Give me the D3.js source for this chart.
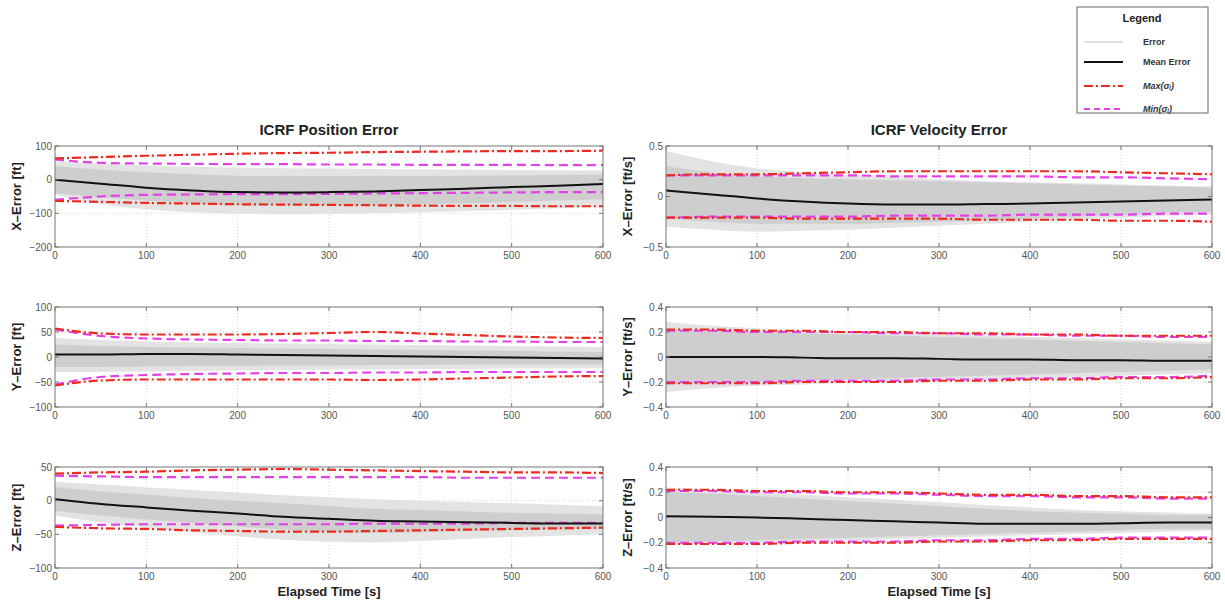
<!DOCTYPE html>
<html>
<head>
<meta charset="utf-8">
<script src="https://cdn.jsdelivr.net/npm/d3@7"></script>
<style>
  body { margin: 0; background: #fff; }
  text { font-family: "Liberation Sans", Arial, sans-serif; }
</style>
</head>
<body>
<svg id="chart" width="1225" height="601"></svg>
<script>
// Tiempo de muestreo (s)
const times = [0, 50, 100, 150, 200, 250, 300, 350, 400, 450, 500, 550, 600];
const xTicks = [0, 100, 200, 300, 400, 500, 600];

// Posicion X [ft]
const posXMean  = [0, -12, -24, -32, -37, -38, -37, -35, -31, -27, -22, -18, -13];
const posXMaxUp = [63, 67, 71, 74, 77, 79, 80, 82, 83, 84, 85, 85, 86];
const posXMaxLo = [-63, -66, -69, -71, -73, -74, -75, -76, -77, -78, -78, -79, -79];
const posXMinUp = [60, 50, 48, 47, 46, 46, 45, 45, 44, 44, 44, 43, 43];
const posXMinLo = [-60, -50, -45, -44, -43, -43, -42, -41, -40, -39, -38, -37, -37];
const posXCloudUp = [55, 48, 42, 38, 36, 34, 33, 32, 31, 30, 29, 28, 27];
const posXCloudLo = [-45, -72, -88, -97, -101, -103, -102, -100, -97, -93, -89, -85, -80];
const posXCoreUp = [40, 30, 22, 16, 12, 10, 10, 10, 11, 12, 13, 14, 15];
const posXCoreLo = [-40, -52, -62, -70, -75, -77, -77, -76, -73, -70, -66, -62, -58];

// Posicion Y [ft]
const posYMean  = [5, 5, 6, 6, 5, 4, 3, 2, 1, 0, -1, -2, -3];
const posYMaxUp = [57, 47, 45, 45, 45, 46, 48, 50, 47, 44, 41, 39, 38];
const posYMaxLo = [-57, -47, -45, -45, -45, -45, -45, -46, -45, -43, -41, -39, -38];
const posYMinUp = [55, 42, 37, 35, 34, 33, 33, 32, 32, 31, 31, 30, 30];
const posYMinLo = [-55, -40, -36, -34, -33, -32, -32, -31, -31, -30, -30, -30, -30];
const posYCloudUp = [38, 34, 31, 29, 28, 27, 26, 25, 24, 23, 22, 21, 20];
const posYCloudLo = [-30, -30, -29, -28, -27, -26, -25, -25, -24, -24, -23, -23, -22];
const posYCoreUp = [25, 22, 20, 19, 18, 17, 16, 15, 14, 13, 12, 11, 10];
const posYCoreLo = [-20, -20, -19, -18, -18, -17, -17, -16, -16, -15, -15, -15, -15];

// Posicion Z [ft]
const posZMean  = [2, -5, -10, -15, -19, -24, -27, -30, -31, -32, -33, -34, -34];
const posZMaxUp = [40, 42, 43, 45, 46, 47, 46, 45, 44, 43, 42, 42, 41];
const posZMaxLo = [-39, -41, -42, -44, -45, -46, -46, -45, -44, -43, -42, -41, -40];
const posZMinUp = [37, 36, 35, 35, 35, 35, 35, 35, 35, 34, 34, 34, 34];
const posZMinLo = [-37, -36, -35, -35, -35, -35, -35, -34, -34, -34, -33, -33, -33];
const posZCloudUp = [28, 24, 20, 16, 12, 8, 5, 2, 0, -2, -4, -6, -8];
const posZCloudLo = [-22, -32, -40, -47, -53, -58, -61, -62, -60, -57, -54, -52, -50];
const posZCoreUp = [20, 14, 9, 4, 0, -4, -8, -12, -14, -16, -18, -19, -20];
const posZCoreLo = [-15, -22, -28, -33, -38, -43, -46, -48, -47, -45, -44, -43, -42];

// Velocidad X [ft/s]
const velXMean  = [0.06, 0.02, -0.02, -0.05, -0.07, -0.08, -0.08, -0.075, -0.07, -0.06, -0.05, -0.04, -0.03];
const velXMaxUp = [0.21, 0.22, 0.22, 0.23, 0.24, 0.25, 0.25, 0.25, 0.25, 0.25, 0.24, 0.23, 0.22];
const velXMaxLo = [-0.21, -0.21, -0.21, -0.22, -0.22, -0.22, -0.22, -0.23, -0.23, -0.23, -0.24, -0.24, -0.25];
const velXMinUp = [0.21, 0.21, 0.21, 0.21, 0.21, 0.2, 0.2, 0.2, 0.2, 0.19, 0.19, 0.18, 0.17];
const velXMinLo = [-0.21, -0.2, -0.2, -0.2, -0.2, -0.19, -0.19, -0.19, -0.18, -0.18, -0.18, -0.17, -0.17];
const velXCloudUp = [0.45, 0.35, 0.28, 0.24, 0.21, 0.19, 0.17, 0.15, 0.14, 0.13, 0.12, 0.11, 0.1];
const velXCloudLo = [-0.3, -0.33, -0.35, -0.34, -0.33, -0.31, -0.29, -0.27, -0.25, -0.23, -0.21, -0.19, -0.18];
const velXCoreUp = [0.3, 0.24, 0.2, 0.18, 0.17, 0.16, 0.15, 0.14, 0.13, 0.12, 0.11, 0.1, 0.09];
const velXCoreLo = [-0.22, -0.25, -0.27, -0.27, -0.27, -0.26, -0.25, -0.24, -0.22, -0.2, -0.18, -0.16, -0.15];

// Velocidad Y [ft/s]
const velYMean  = [0, 0, 0, -0.005, -0.01, -0.01, -0.015, -0.02, -0.02, -0.025, -0.025, -0.03, -0.03];
const velYMaxUp = [0.22, 0.22, 0.21, 0.21, 0.2, 0.2, 0.19, 0.19, 0.18, 0.18, 0.17, 0.17, 0.17];
const velYMaxLo = [-0.21, -0.21, -0.21, -0.2, -0.2, -0.2, -0.19, -0.19, -0.18, -0.18, -0.17, -0.17, -0.16];
const velYMinUp = [0.21, 0.21, 0.2, 0.2, 0.2, 0.19, 0.19, 0.18, 0.18, 0.17, 0.17, 0.16, 0.16];
const velYMinLo = [-0.2, -0.2, -0.2, -0.19, -0.19, -0.19, -0.18, -0.18, -0.17, -0.17, -0.16, -0.16, -0.15];
const velYCloudUp = [0.28, 0.25, 0.23, 0.21, 0.2, 0.19, 0.18, 0.17, 0.16, 0.15, 0.14, 0.13, 0.12];
const velYCloudLo = [-0.28, -0.25, -0.23, -0.22, -0.21, -0.2, -0.19, -0.18, -0.17, -0.16, -0.15, -0.14, -0.13];
const velYCoreUp = [0.22, 0.21, 0.2, 0.19, 0.18, 0.17, 0.16, 0.15, 0.14, 0.13, 0.12, 0.11, 0.1];
const velYCoreLo = [-0.22, -0.21, -0.2, -0.19, -0.18, -0.17, -0.16, -0.15, -0.14, -0.13, -0.12, -0.11, -0.1];

// Velocidad Z [ft/s]
const velZMean  = [0.01, 0.005, 0, -0.01, -0.02, -0.03, -0.04, -0.05, -0.05, -0.05, -0.045, -0.04, -0.04];
const velZMaxUp = [0.22, 0.22, 0.21, 0.21, 0.2, 0.2, 0.19, 0.18, 0.18, 0.17, 0.17, 0.16, 0.16];
const velZMaxLo = [-0.21, -0.21, -0.21, -0.2, -0.2, -0.2, -0.19, -0.19, -0.18, -0.18, -0.17, -0.17, -0.17];
const velZMinUp = [0.21, 0.21, 0.2, 0.2, 0.19, 0.19, 0.18, 0.17, 0.17, 0.16, 0.16, 0.15, 0.15];
const velZMinLo = [-0.2, -0.2, -0.2, -0.19, -0.19, -0.19, -0.18, -0.18, -0.17, -0.17, -0.16, -0.16, -0.16];
const velZCloudUp = [0.24, 0.22, 0.2, 0.18, 0.16, 0.14, 0.12, 0.1, 0.08, 0.06, 0.05, 0.04, 0.03];
const velZCloudLo = [-0.22, -0.21, -0.2, -0.19, -0.18, -0.17, -0.16, -0.15, -0.14, -0.13, -0.12, -0.11, -0.1];
const velZCoreUp = [0.2, 0.19, 0.17, 0.15, 0.13, 0.11, 0.09, 0.07, 0.05, 0.04, 0.03, 0.02, 0.02];
const velZCoreLo = [-0.2, -0.19, -0.18, -0.17, -0.16, -0.15, -0.14, -0.13, -0.12, -0.11, -0.1, -0.09, -0.09];

const legendLabels = ['Error', 'Mean Error', 'Max(σᵢ)', 'Min(σᵢ)'];

const svg = d3.select('#chart');

// Colores
const RED = '#ec2a1f';
const MAGENTA = '#e440e8';

const panels = [
  { col: 0, row: 0, domain: [-200, 100], ticks: [-200, -100, 0, 100], label: 'X–Error [ft]',
    mean: posXMean, maxUp: posXMaxUp, maxLo: posXMaxLo, minUp: posXMinUp, minLo: posXMinLo,
    cloudUp: posXCloudUp, cloudLo: posXCloudLo, coreUp: posXCoreUp, coreLo: posXCoreLo },
  { col: 0, row: 1, domain: [-100, 100], ticks: [-100, -50, 0, 50, 100], label: 'Y–Error [ft]',
    mean: posYMean, maxUp: posYMaxUp, maxLo: posYMaxLo, minUp: posYMinUp, minLo: posYMinLo,
    cloudUp: posYCloudUp, cloudLo: posYCloudLo, coreUp: posYCoreUp, coreLo: posYCoreLo },
  { col: 0, row: 2, domain: [-100, 50], ticks: [-100, -50, 0, 50], label: 'Z–Error [ft]',
    mean: posZMean, maxUp: posZMaxUp, maxLo: posZMaxLo, minUp: posZMinUp, minLo: posZMinLo,
    cloudUp: posZCloudUp, cloudLo: posZCloudLo, coreUp: posZCoreUp, coreLo: posZCoreLo },
  { col: 1, row: 0, domain: [-0.5, 0.5], ticks: [-0.5, 0, 0.5], label: 'X–Error [ft/s]',
    mean: velXMean, maxUp: velXMaxUp, maxLo: velXMaxLo, minUp: velXMinUp, minLo: velXMinLo,
    cloudUp: velXCloudUp, cloudLo: velXCloudLo, coreUp: velXCoreUp, coreLo: velXCoreLo },
  { col: 1, row: 1, domain: [-0.4, 0.4], ticks: [-0.4, -0.2, 0, 0.2, 0.4], label: 'Y–Error [ft/s]',
    mean: velYMean, maxUp: velYMaxUp, maxLo: velYMaxLo, minUp: velYMinUp, minLo: velYMinLo,
    cloudUp: velYCloudUp, cloudLo: velYCloudLo, coreUp: velYCoreUp, coreLo: velYCoreLo },
  { col: 1, row: 2, domain: [-0.4, 0.4], ticks: [-0.4, -0.2, 0, 0.2, 0.4], label: 'Z–Error [ft/s]',
    mean: velZMean, maxUp: velZMaxUp, maxLo: velZMaxLo, minUp: velZMinUp, minLo: velZMinLo,
    cloudUp: velZCloudUp, cloudLo: velZCloudLo, coreUp: velZCoreUp, coreLo: velZCoreLo }
];

const colX = [[55, 603], [666, 1212]];
const rowY = [[146, 247], [307, 407], [467, 568]];
const titles = ['ICRF Position Error', 'ICRF Velocity Error'];

panels.forEach(drawPanel);

// Titulos de columna y eje x
titles.forEach((t, i) => {
  const cx = (colX[i][0] + colX[i][1]) / 2;
  svg.append('text').attr('x', cx).attr('y', 135).attr('text-anchor', 'middle')
    .attr('font-size', 15).attr('font-weight', 'bold').attr('fill', '#222').text(t);
  svg.append('text').attr('x', cx).attr('y', 596).attr('text-anchor', 'middle')
    .attr('font-size', 13).attr('font-weight', 'bold').attr('fill', '#222').text('Elapsed Time [s]');
});

drawLegend();

function drawPanel(p) {
  const [x0, x1] = colX[p.col];
  const [y0, y1] = rowY[p.row];
  const x = d3.scaleLinear().domain([0, 600]).range([x0, x1]);
  const y = d3.scaleLinear().domain(p.domain).range([y1, y0]);
  const g = svg.append('g');

  // Rejilla punteada
  g.selectAll('.vgrid').data(xTicks.slice(1, -1)).enter().append('line')
    .attr('x1', d => x(d)).attr('x2', d => x(d)).attr('y1', y0).attr('y2', y1)
    .attr('stroke', '#c8c8c8').attr('stroke-width', 0.8).attr('stroke-dasharray', '1,2');
  g.selectAll('.hgrid').data(p.ticks.slice(1, -1)).enter().append('line')
    .attr('x1', x0).attr('x2', x1).attr('y1', d => y(d)).attr('y2', d => y(d))
    .attr('stroke', '#c8c8c8').attr('stroke-width', 0.8).attr('stroke-dasharray', '1,2');

  const clipId = 'clip' + p.col + p.row;
  g.append('clipPath').attr('id', clipId).append('rect')
    .attr('x', x0).attr('y', y0).attr('width', x1 - x0).attr('height', y1 - y0);
  const inner = g.append('g').attr('clip-path', `url(#${clipId})`);

  // Nube de errores (gris)
  const area = (up, lo) => d3.area()
    .x((d, i) => x(times[i])).y0((d, i) => y(lo[i])).y1((d, i) => y(up[i]))
    .curve(d3.curveMonotoneX)(times);
  inner.append('path').attr('d', area(p.cloudUp, p.cloudLo)).attr('fill', '#e3e3e3');
  inner.append('path').attr('d', area(p.coreUp, p.coreLo)).attr('fill', '#cecece');

  const line = d3.line().x((d, i) => x(times[i])).y(d => y(d)).curve(d3.curveMonotoneX);

  [p.minUp, p.minLo].forEach(s => inner.append('path').attr('d', line(s))
    .attr('fill', 'none').attr('stroke', MAGENTA).attr('stroke-width', 2.2)
    .attr('stroke-dasharray', '9,5'));
  [p.maxUp, p.maxLo].forEach(s => inner.append('path').attr('d', line(s))
    .attr('fill', 'none').attr('stroke', RED).attr('stroke-width', 2.2)
    .attr('stroke-dasharray', '9,3,2,3'));
  inner.append('path').attr('d', line(p.mean))
    .attr('fill', 'none').attr('stroke', '#111').attr('stroke-width', 2);

  // Marco y marcas interiores
  g.append('rect').attr('x', x0).attr('y', y0).attr('width', x1 - x0).attr('height', y1 - y0)
    .attr('fill', 'none').attr('stroke', '#777').attr('stroke-width', 1);
  xTicks.forEach(t => {
    g.append('line').attr('x1', x(t)).attr('x2', x(t)).attr('y1', y1).attr('y2', y1 - 4).attr('stroke', '#777');
    g.append('line').attr('x1', x(t)).attr('x2', x(t)).attr('y1', y0).attr('y2', y0 + 4).attr('stroke', '#777');
  });
  p.ticks.forEach(t => {
    g.append('line').attr('x1', x0).attr('x2', x0 + 4).attr('y1', y(t)).attr('y2', y(t)).attr('stroke', '#777');
    g.append('line').attr('x1', x1).attr('x2', x1 - 4).attr('y1', y(t)).attr('y2', y(t)).attr('stroke', '#777');
  });

  // Etiquetas de marcas
  g.selectAll('.xt').data(xTicks).enter().append('text')
    .attr('x', d => x(d)).attr('y', y1 + 12).attr('text-anchor', 'middle')
    .attr('font-size', 10).attr('fill', '#555').text(d => d);
  g.selectAll('.yt').data(p.ticks).enter().append('text')
    .attr('x', x0 - 3).attr('y', d => y(d) + 3.5).attr('text-anchor', 'end')
    .attr('font-size', 10).attr('fill', '#555').text(d => d3.format('~g')(d));

  g.append('text')
    .attr('transform', `translate(${x0 - 34},${(y0 + y1) / 2}) rotate(-90)`)
    .attr('text-anchor', 'middle').attr('font-size', 13).attr('font-weight', 'bold')
    .attr('fill', '#222').text(p.label);
}

function drawLegend() {
  const lg = svg.append('g');
  lg.append('rect').attr('x', 1077).attr('y', 7).attr('width', 131).attr('height', 106)
    .attr('fill', '#fff').attr('stroke', '#666').attr('stroke-width', 1);
  lg.append('text').attr('x', 1142).attr('y', 22).attr('text-anchor', 'middle')
    .attr('font-size', 11).attr('font-weight', 'bold').attr('fill', '#222').text('Legend');
  const rows = [42, 62, 86, 109];
  const styles = [
    { stroke: '#c4c4c4', w: 1.2, dash: null },
    { stroke: '#111', w: 2, dash: null },
    { stroke: RED, w: 2, dash: '9,3,2,3' },
    { stroke: MAGENTA, w: 2, dash: '6,4' }
  ];
  legendLabels.forEach((lab, i) => {
    lg.append('line').attr('x1', 1084).attr('x2', 1123).attr('y1', rows[i]).attr('y2', rows[i])
      .attr('stroke', styles[i].stroke).attr('stroke-width', styles[i].w)
      .attr('stroke-dasharray', styles[i].dash);
    lg.append('text').attr('x', 1143).attr('y', rows[i] + 3).attr('font-size', 9)
      .attr('font-weight', 600)
      .attr('fill', '#333').attr('font-style', i > 1 ? 'italic' : 'normal').text(lab);
  });
}
</script>
</body>
</html>
